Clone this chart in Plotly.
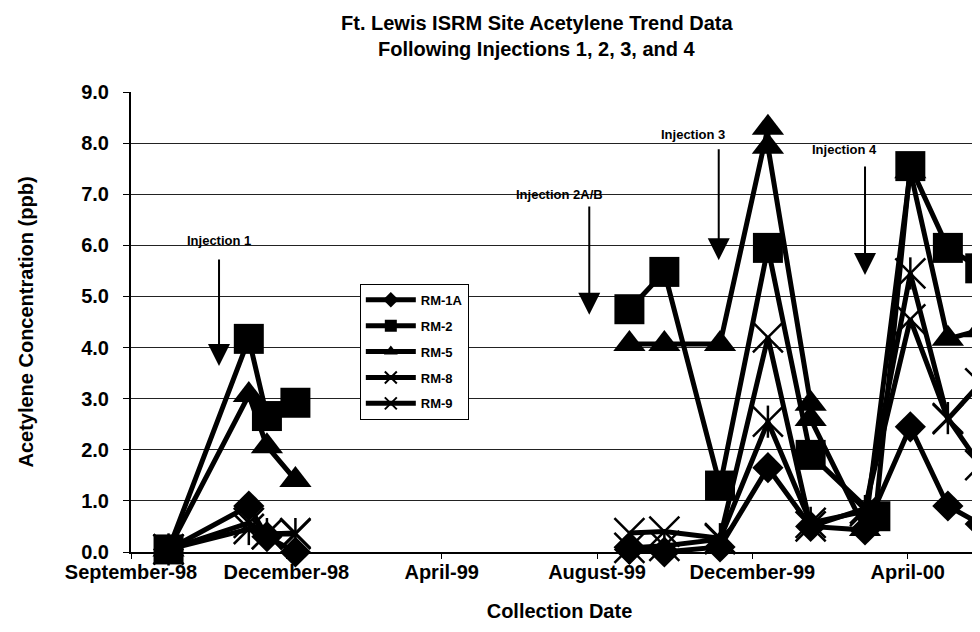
import plotly.graph_objects as go

# x axis: Excel style date axis, a tick every 120 days from the minimum
tick_dates = ['1998-09-01', '1998-12-30', '1999-04-29', '1999-08-27', '1999-12-25', '2000-04-23']
tick_labels = ['September-98', 'December-98', 'April-99', 'August-99', 'December-99', 'April-00']
x_min = '1998-09-01'
x_max = '2000-06-24'

# sampling dates (None value at gap_date breaks the line between campaigns)
gap_date = '1999-05-01'
dates = ['1998-09-30', '1998-12-01', '1998-12-15', '1999-01-06', gap_date,
         '1999-09-21', '1999-10-18', '1999-11-30', '2000-01-06', '2000-02-08',
         '2000-03-21', '2000-04-25', '2000-05-24', '2000-06-18']
rm2_dates = ['1998-09-30', '1998-12-01', '1998-12-15', '1999-01-06', gap_date,
             '1999-09-21', '1999-10-18', '1999-11-30', '2000-01-06', '2000-02-08',
             '2000-03-29', '2000-04-25', '2000-05-24', '2000-06-18']
rm5_dates = ['1998-09-30', '1998-12-01', '1998-12-15', '1999-01-06', gap_date,
             '1999-09-21', '1999-10-18', '1999-11-30', '2000-01-06', '2000-01-06',
             '2000-02-08', '2000-02-08', '2000-03-21', '2000-04-25', '2000-05-24', '2000-06-18']

# acetylene concentration (ppb)
rm1a = [0.05, 0.9, 0.3, 0.0, None, 0.05, 0.0, 0.1, 1.65, 0.5, 0.43, 2.45, 0.9, 0.55]
rm2 = [0.05, 4.17, 2.66, 2.92, None, 4.75, 5.48, 1.3, 5.95, 1.9, 0.7, 7.55, 5.95, 5.55]
rm5 = [0.05, 3.07, 2.07, 1.41, None, 4.07, 4.07, 4.07, 8.3, 7.93, 2.9, 2.6, 0.45, 7.45, 4.17, 4.34]
rm8 = [0.05, 0.57, 0.35, 0.37, None, 0.37, 0.4, 0.27, 4.2, 0.5, 0.85, 4.55, 2.6, 3.3]
rm9 = [0.05, 0.45, 0.35, 0.35, None, 0.08, 0.12, 0.25, 2.55, 0.57, 0.8, 5.45, 2.62, 1.7]

# injection markers: arrow date, arrow tip, arrow tail, label date, label level
inj_labels = ['Injection 1', 'Injection 2A/B', 'Injection 3', 'Injection 4']
inj_arrow_dates = ['1998-11-08', '1999-08-21', '1999-11-29', '2000-03-21']
inj_tip = [3.64, 4.64, 5.71, 5.42]
inj_tail = [5.75, 6.79, 7.91, 7.57]
inj_text_dates = ['1998-11-08', '1999-07-29', '1999-11-09', '2000-03-05']
inj_text_y = [6.09, 6.99, 8.16, 7.87]

title_lines = ['Ft. Lewis ISRM Site Acetylene Trend Data', 'Following Injections 1, 2, 3, and 4']

BOLD = dict(family='Arial', weight='bold', color='black')

fig = go.Figure()

series = [
    ('RM-1A', dates, rm1a, dict(symbol='diamond', size=24, color='black')),
    ('RM-2', rm2_dates, rm2, dict(symbol='square', size=30, color='black')),
    ('RM-5', rm5_dates, rm5, dict(symbol='triangle-up', size=28, color='black')),
    ('RM-8', dates, rm8, dict(symbol='x-thin-open', size=30, color='black',
                              line=dict(width=2.5, color='black'))),
    ('RM-9', dates, rm9, dict(symbol='x-thin-open', size=30, color='black',
                              line=dict(width=2.5, color='black'))),
]
for name, x, y, marker in series:
    fig.add_trace(go.Scatter(
        x=x, y=y, name=name, mode='lines+markers',
        line=dict(color='black', width=5),
        marker=marker, connectgaps=False, cliponaxis=False,
        legendgroup=name
    ))

# vertical stroke that turns the RM-9 crosses into asterisks
fig.add_trace(go.Scatter(
    x=dates, y=rm9, mode='markers', showlegend=False, legendgroup='RM-9',
    marker=dict(symbol='line-ns-open', size=23, color='black',
                line=dict(width=2.5, color='black')),
    cliponaxis=False, hoverinfo='skip'
))

for i in range(len(inj_labels)):
    fig.add_annotation(x=inj_arrow_dates[i], y=inj_tip[i], ax=inj_arrow_dates[i], ay=inj_tail[i],
                       axref='x', ayref='y', text='', showarrow=True,
                       arrowhead=2, arrowsize=2.2, arrowwidth=2, arrowcolor='black')
    fig.add_annotation(x=inj_text_dates[i], y=inj_text_y[i], text=inj_labels[i],
                       showarrow=False, font=dict(BOLD, size=13))

# two line chart title
fig.add_annotation(xref='paper', yref='paper', x=0.474, y=1.15, yanchor='middle',
                   text=title_lines[0], showarrow=False, font=dict(BOLD, size=20))
fig.add_annotation(xref='paper', yref='paper', x=0.474, y=1.094, yanchor='middle',
                   text=title_lines[1], showarrow=False, font=dict(BOLD, size=20))

fig.update_layout(
    width=980, height=632,
    margin=dict(l=123, r=0, t=84, b=88),
    plot_bgcolor='white', paper_bgcolor='white',
    font=BOLD,
    legend=dict(x=0.267, y=0.583, xanchor='left', yanchor='top',
                bgcolor='white', bordercolor='black', borderwidth=1,
                font=dict(BOLD, size=13), itemsizing='constant', tracegroupgap=6,
                itemwidth=50),
    showlegend=True
)
fig.update_yaxes(range=[0, 9], dtick=1, tickformat='.1f',
                 showgrid=True, gridcolor='#222222', gridwidth=1, zeroline=False,
                 showline=True, linecolor='black', linewidth=2,
                 ticks='outside', ticklen=6, tickcolor='black', tickwidth=1,
                 tickfont=dict(BOLD, size=20), ticklabelstandoff=10,
                 title=dict(text='Acetylene Concentration (ppb)', font=dict(BOLD, size=20), standoff=42))
fig.update_xaxes(type='date', range=[x_min, x_max],
                 tickvals=tick_dates, ticktext=tick_labels,
                 showgrid=False, zeroline=False,
                 showline=True, linecolor='black', linewidth=2,
                 ticks='outside', ticklen=5, tickcolor='black', tickwidth=1,
                 tickfont=dict(BOLD, size=20), ticklabelstandoff=-4,
                 title=dict(text='Collection Date', font=dict(BOLD, size=20), standoff=22))

fig.write_html('out.html')
